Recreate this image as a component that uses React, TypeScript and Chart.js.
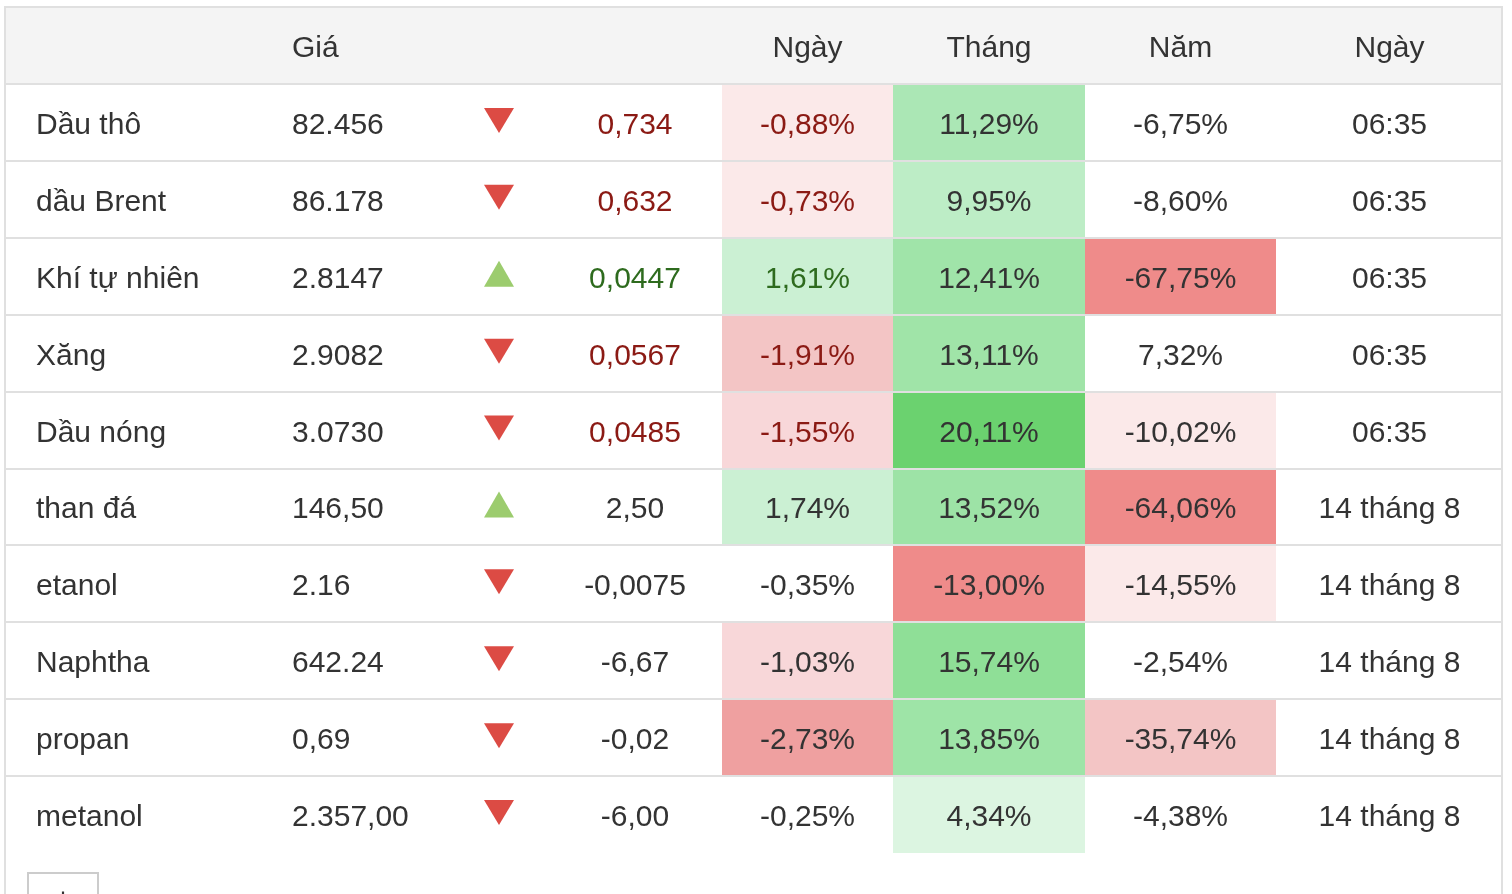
import React, { useEffect, useRef } from "react";
import { Chart, registerables } from "chart.js";

Chart.register(...registerables);

// ---------- data ----------
const commodities = ["Dầu thô", "dầu Brent", "Khí tự nhiên", "Xăng", "Dầu nóng", "than đá", "etanol", "Naphtha", "propan", "metanol"];
const prices = ["82.456", "86.178", "2.8147", "2.9082", "3.0730", "146,50", "2.16", "642.24", "0,69", "2.357,00"];
const directions = ["down", "down", "up", "down", "down", "up", "down", "down", "down", "down"];
const changes = ["0,734", "0,632", "0,0447", "0,0567", "0,0485", "2,50", "-0,0075", "-6,67", "-0,02", "-6,00"];
const dayChange = [-0.88, -0.73, 1.61, -1.91, -1.55, 1.74, -0.35, -1.03, -2.73, -0.25];
const monthChange = [11.29, 9.95, 12.41, 13.11, 20.11, 13.52, -13.0, 15.74, 13.85, 4.34];
const yearChange = [-6.75, -8.6, -67.75, 7.32, -10.02, -64.06, -14.55, -2.54, -35.74, -4.38];
const updated = ["06:35", "06:35", "06:35", "06:35", "06:35", "14 tháng 8", "14 tháng 8", "14 tháng 8", "14 tháng 8", "14 tháng 8"];
const headers = ["", "Giá", "", "", "Ngày", "Tháng", "Năm", "Ngày"];

// ---------- styles / layout ----------
const columnWidths = [256, 189, 98, 174, 171, 192, 191, 227];
const columnAlign = ["left", "left", "center", "center", "center", "center", "center", "center"];
const dayColors = ["#fbe9e9", "#fbe9e9", "#cbf0d3", "#f3c5c5", "#f8d7d9", "#cbf0d3", null, "#f8d7d9", "#efa0a0", null];
const monthColors = ["#abe7b5", "#bdedc6", "#a0e4a9", "#a0e4a8", "#6bd26f", "#9de3a6", "#ef8b8a", "#8fdf97", "#9ee4a7", "#dcf5e1"];
const yearColors = [null, null, "#ef8b8a", null, "#fbe9e9", "#ef8b8a", "#fbe9e9", null, "#f3c5c5", null];
const accentRows = [true, true, true, true, true, false, false, false, false, false];

const FONT = '30px "Liberation Sans", Arial, Helvetica, sans-serif';
const TEXT = "#333333";
const RED_TEXT = "#8b1a14";
const GREEN_TEXT = "#2e6b1e";
const RED_ARROW = "#dc4b44";
const GREEN_ARROW = "#9ccc6e";
const LINE = "#e0e0e0";
const HEADER_BG = "#f4f4f4";

const fmtPct = (v: number) => v.toFixed(2).replace(".", ",") + "%";

const cellText = (col: number, i: number): string => {
  switch (col) {
    case 0: return commodities[i];
    case 1: return prices[i];
    case 3: return changes[i];
    case 4: return fmtPct(dayChange[i]);
    case 5: return fmtPct(monthChange[i]);
    case 6: return fmtPct(yearChange[i]);
    case 7: return updated[i];
    default: return "";
  }
};

const cellColor = (col: number, i: number): string => {
  const c = col === 4 ? dayColors[i] : col === 5 ? monthColors[i] : col === 6 ? yearColors[i] : null;
  return c || "rgba(255,255,255,0)";
};

const textColor = (col: number, i: number): string => {
  if ((col === 3 || col === 4) && accentRows[i]) return directions[i] === "up" ? GREEN_TEXT : RED_TEXT;
  return TEXT;
};

const tablePlugin = {
  id: "tablePlugin",
  beforeDatasetsDraw(chart: any) {
    const ctx = chart.ctx;
    const area = chart.chartArea;
    ctx.save();
    // header background
    ctx.fillStyle = HEADER_BG;
    ctx.fillRect(area.left, 8, area.right - area.left, area.top - 8);
    ctx.restore();
  },
  afterDatasetsDraw(chart: any) {
    const ctx = chart.ctx;
    const area = chart.chartArea;
    const yScale = chart.scales.y;
    const n = commodities.length;
    const rowH = (area.bottom - area.top) / n;
    ctx.save();

    // row separators
    ctx.strokeStyle = LINE;
    ctx.lineWidth = 2;
    for (let i = 0; i < n; i++) {
      const y = Math.round(yScale.getPixelForValue(i) - rowH / 2);
      ctx.beginPath();
      ctx.moveTo(area.left, y);
      ctx.lineTo(area.right, y);
      ctx.stroke();
    }
    // outer frame
    ctx.beginPath();
    ctx.moveTo(area.left - 1, 7);
    ctx.lineTo(area.right - 1, 7);
    ctx.moveTo(area.left, 6);
    ctx.lineTo(area.left, chart.height);
    ctx.moveTo(area.right - 1, 6);
    ctx.lineTo(area.right - 1, chart.height);
    ctx.stroke();

    ctx.font = FONT;
    ctx.textBaseline = "alphabetic";

    const headerMid = (7 + area.top) / 2;
    chart.data.datasets.forEach((ds: any, col: number) => {
      const meta = chart.getDatasetMeta(col);
      meta.data.forEach((el: any, i: number) => {
        const left = Math.min(el.base, el.x);
        const right = Math.max(el.base, el.x);
        const cx = (left + right) / 2;
        const cy = el.y;
        const tx = columnAlign[col] === "left" ? left + 31 : cx;
        ctx.textAlign = columnAlign[col] === "left" ? "left" : "center";
        if (i === 0 && headers[col]) {
          ctx.fillStyle = TEXT;
          ctx.fillText(headers[col], tx, headerMid + 11.5);
        }
        if (col === 2) {
          const up = directions[i] === "up";
          ctx.fillStyle = up ? GREEN_ARROW : RED_ARROW;
          ctx.beginPath();
          if (up) {
            ctx.moveTo(cx, cy - 15.5);
            ctx.lineTo(cx + 15, cy + 10.5);
            ctx.lineTo(cx - 15, cy + 10.5);
          } else {
            ctx.moveTo(cx - 15, cy - 14.5);
            ctx.lineTo(cx + 15, cy - 14.5);
            ctx.lineTo(cx, cy + 10.5);
          }
          ctx.closePath();
          ctx.fill();
          return;
        }
        ctx.fillStyle = textColor(col, i);
        ctx.fillText(cellText(col, i), tx, cy + 11.5);
      });
    });

    // expand button below the table
    ctx.strokeStyle = "#cccccc";
    ctx.lineWidth = 2;
    ctx.strokeRect(28, 873, 70, 40);
    ctx.fillStyle = TEXT;
    ctx.textAlign = "center";
    ctx.fillText("+", 63, 909);

    ctx.restore();
  },
};

export default function App() {
  const ref = useRef<HTMLCanvasElement>(null);
  useEffect(() => {
    if (!ref.current) return;
    const total = columnWidths.reduce((a, b) => a + b, 0);
    const chart = new Chart(ref.current, {
      type: "bar",
      data: {
        labels: commodities,
        datasets: columnWidths.map((w, col) => ({
          label: headers[col] || `col${col}`,
          data: commodities.map(() => w),
          backgroundColor: commodities.map((_, i) => cellColor(col, i)),
          borderWidth: 0,
          borderSkipped: false,
          inflateAmount: 0,
          barPercentage: 1,
          categoryPercentage: 1,
          stack: "row",
        })),
      },
      options: {
        indexAxis: "y",
        responsive: false,
        animation: false,
        devicePixelRatio: 1,
        layout: { padding: { left: 5, right: 9, top: 84, bottom: 41 } },
        plugins: { legend: { display: false }, tooltip: { enabled: false } },
        scales: {
          x: { type: "linear", stacked: true, min: 0, max: total, display: false },
          y: { type: "category", stacked: true, offset: true, display: false },
        },
      } as any,
      plugins: [tablePlugin],
    });
    return () => chart.destroy();
  }, []);
  return (
    <div style={{ position: "fixed", left: 0, top: 0, width: 1512, height: 894, background: "#ffffff" }}>
      <canvas ref={ref} width={1512} height={894} style={{ display: "block", width: 1512, height: 894 }} />
    </div>
  );
}
